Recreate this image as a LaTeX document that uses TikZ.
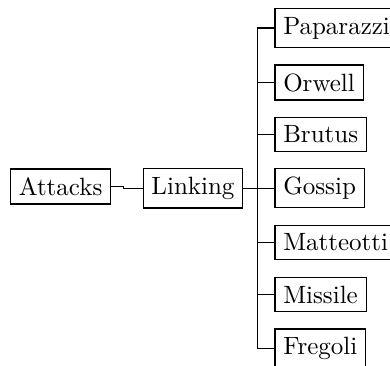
\documentclass[tikz,border=0pt]{standalone}
\begin{document}
\begin{tikzpicture}[x=0.4pt, y=-0.4pt,
  box/.style={draw, rectangle, anchor=west, inner sep=0.3333em, line width=0.5pt},
  fork/.style={draw, line width=0.5pt}]
\useasboundingbox (0,0) rectangle (390,365);
\clip (0,0) rectangle (390,365);

% root and intermediate nodes
\node[box] (attacks) at (10,186.5) {Attacks};
\node[box] (linking) at (142.5,188.3) {Linking};

% leaves
\node[box] (paparazzi) at (274.3,28)   {Paparazzi};
\node[box] (orwell)    at (274.3,82.5) {Orwell};
\node[box] (brutus)    at (274.3,134.5){Brutus};
\node[box] (gossip)    at (274.3,188.3){Gossip};
\node[box] (matteotti) at (274.3,242.5){Matteotti};
\node[box] (missile)   at (274.3,294.5){Missile};
\node[box] (fregoli)   at (274.3,348.5){Fregoli};

% forked edges
\path[fork] (attacks.east) -- ++(12,0) |- (linking.west);
\foreach \c in {paparazzi,orwell,brutus,gossip,matteotti,missile,fregoli}
  \path[fork] (linking.east) -- ++(14,0) |- (\c.west);
\end{tikzpicture}
\end{document}
